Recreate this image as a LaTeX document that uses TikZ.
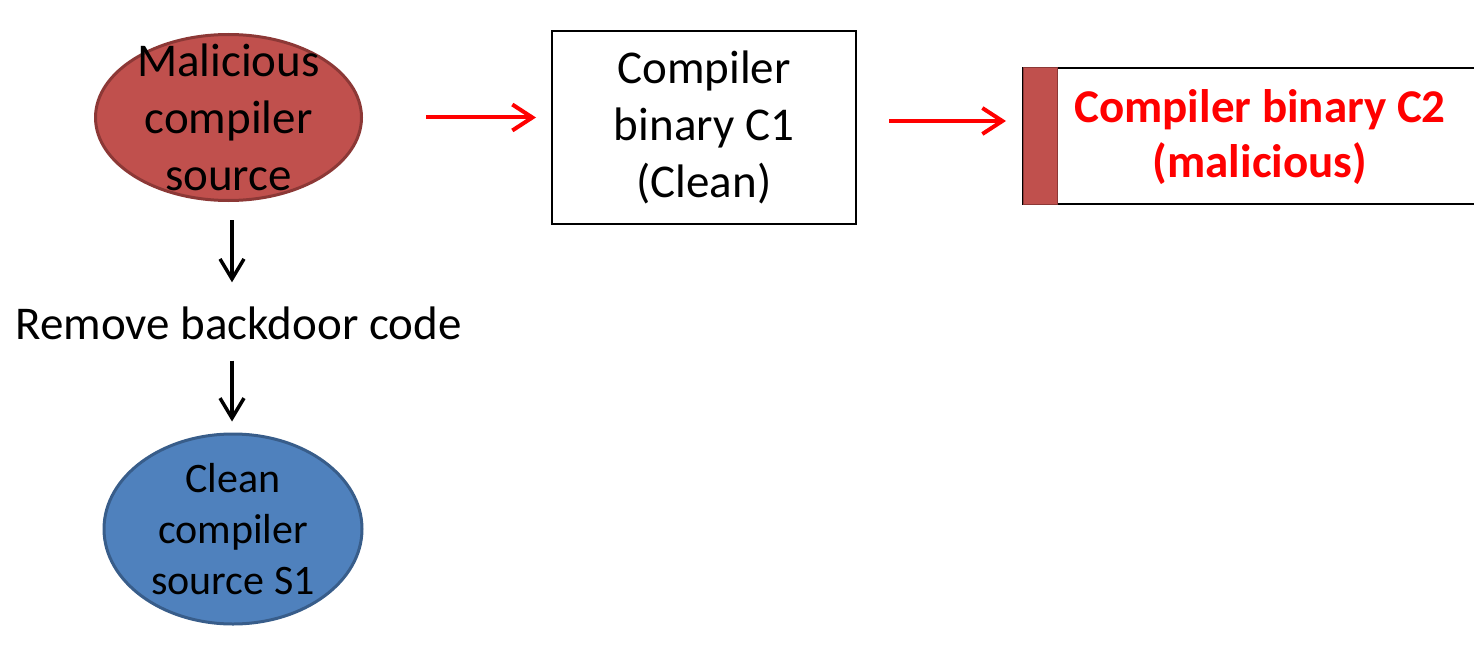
\documentclass[tikz,border=0pt]{standalone}
\usepackage{fontspec}
\setmainfont{Carlito}
\usetikzlibrary{shapes.geometric,arrows.meta}
\definecolor{malred}{HTML}{C0504D}
\definecolor{malborder}{HTML}{8C3836}
\definecolor{cleanblue}{HTML}{4F81BD}
\definecolor{cleanborder}{HTML}{385D8A}
\tikzset{
  bigtext/.style={font=\fontsize{47}{57}\selectfont, align=center, inner sep=0pt},
  srcnode/.style={ellipse, line width=3pt, bigtext, inner ysep=-45pt},
  binbox/.style={rectangle, draw, line width=2pt, bigtext},
  redarrow/.style={draw=red, line width=4pt, -{Straight Barb[length=20pt,width=26pt]}},
  blkarrow/.style={draw=black, line width=3.5pt, -{Straight Barb[length=20pt,width=24pt]}}
}
\begin{document}
\begin{tikzpicture}[x=1pt,y=-1pt]
\useasboundingbox (0,0) rectangle (1474,650);
% Quelltext mit Hintertuer
\node[srcnode, fill=malred, draw=malborder, minimum width=266, minimum height=166] (mal) at (228.5,117.5) {Malicious\\compiler\\source};
% Binaerdatei C1
\node[binbox, minimum width=304, minimum height=193] (c1) at (704,127.5) {Compiler\\binary C1\\(Clean)};
% Binaerdatei C2, rechts abgeschnitten
\draw[line width=2pt] (1474,68) -- (1023,68) -- (1023,204) -- (1474,204);
\fill[malred] (1023,68) rectangle (1057,204);
\draw[malborder, line width=1pt] (1023,68) rectangle (1057,204);
\coordinate (c2w) at (1023,121);
\node[bigtext, text=red, font=\fontsize{47}{55}\selectfont\bfseries] (c2) at (1260,137) {Compiler binary C2\\(malicious)};
% Schritt
\node[bigtext] (rem) at (238.5,323) {Remove backdoor code};
% sauberer Quelltext
\node[srcnode, fill=cleanblue, draw=cleanborder, minimum width=258, minimum height=190, font=\fontsize{42}{51}\selectfont] (cln) at (233,529) {Clean\\compiler\\source S1};
% Pfeile
\draw[redarrow, shorten <=63pt, shorten >=15pt] (mal.east) -- (mal.east -| c1.west);
\draw[redarrow, shorten <=32pt, shorten >=17pt] (c1.east |- c2w) -- (c2w);
\draw[blkarrow, shorten <=18pt, shorten >=24pt] ([xshift=3.5pt]mal.south) -- ([xshift=3.5pt]mal.south |- rem.north);
\draw[blkarrow, shorten <=21pt, shorten >=11pt] ([xshift=-1pt]cln.north |- rem.south) -- ([xshift=-1pt]cln.north);
\end{tikzpicture}
\end{document}
